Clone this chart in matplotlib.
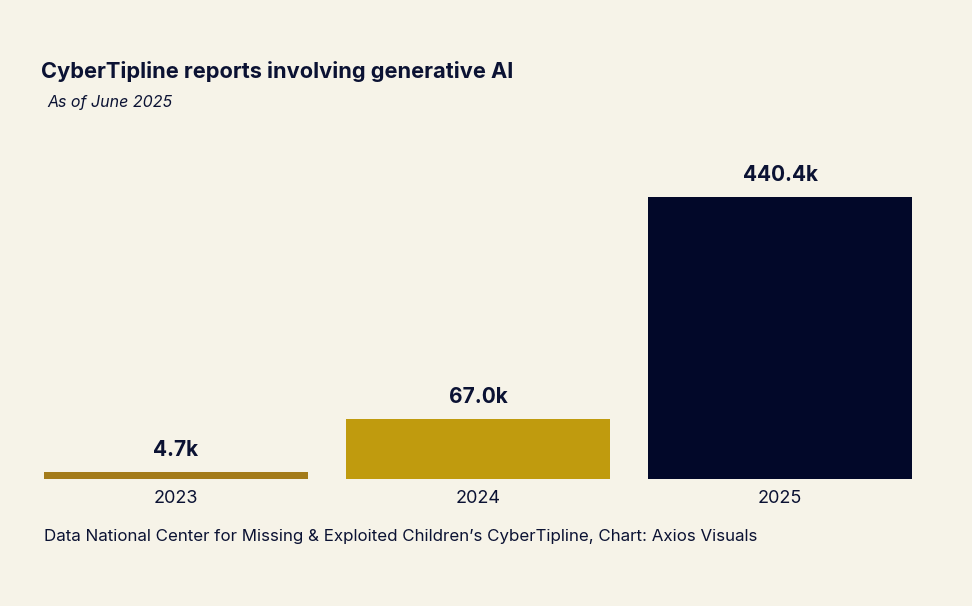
import matplotlib
matplotlib.use("Agg")
import matplotlib.pyplot as plt
import numpy as np

years = ["2023", "2024", "2025"]
reports_k = [4.7, 67.0, 440.4]
labels = ["4.7k", "67.0k", "440.4k"]
colors = ["#A37B1A", "#C09B0E", "#020829"]

BG = "#F6F3E8"
TXT = "#0B1233"
plt.rcParams["font.family"] = ["Inter", "DejaVu Sans"]

fig = plt.figure(figsize=(9.72, 6.06), dpi=100, facecolor=BG)
ax = fig.add_axes([44/972, 127/606, 868/972, 282/606])
ax.set_facecolor(BG)

# The source chart's bar heights are compressed (non-linear); approximate with a power scale
p = 0.82
ax.set_yscale("function", functions=(lambda v: np.sign(v)*np.abs(v)**p,
                                      lambda v: np.sign(v)*np.abs(v)**(1/p)))
x = np.arange(len(years))
w = 0.873
bars = ax.bar(x, reports_k, width=w, color=colors)
ax.set_xlim(-w/2, len(years)-1+w/2)
ax.set_ylim(0, max(reports_k))
for b, lab in zip(bars, labels):
    ax.annotate(lab, (b.get_x()+b.get_width()/2, b.get_height()), xytext=(0, 16),
                textcoords="offset points", ha="center", va="center",
                fontsize=15, fontweight="bold", color=TXT, clip_on=False)
ax.set_xticks(x)
ax.set_xticklabels(years, fontsize=13, color=TXT)
ax.tick_params(axis="x", length=0, pad=8)
ax.set_yticks([])
ax.yaxis.set_minor_locator(matplotlib.ticker.NullLocator())
for s in ax.spines.values():
    s.set_visible(False)

fig.text(41/972, 1-71/606, "CyberTipline reports involving generative AI", fontsize=15.7,
         fontweight="bold", color=TXT, ha="left", va="center")
fig.text(47/972, 1-103/606, "As of June 2025", fontsize=11.5, style="italic",
         color=TXT, ha="left", va="center")
fig.text(44/972, 1-537/606,
         "Data National Center for Missing & Exploited Children\u2019s CyberTipline, Chart: Axios Visuals",
         fontsize=12.2, color=TXT, ha="left", va="center")

fig.savefig("out.png", dpi=100, facecolor=BG)
